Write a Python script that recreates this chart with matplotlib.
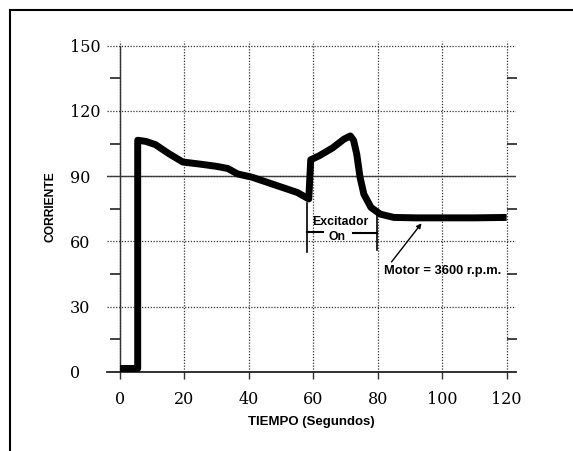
import matplotlib
matplotlib.use("Agg")
import matplotlib.pyplot as plt
from matplotlib.lines import Line2D

# ---- data ----
time_s = [0, 5.5, 5.5, 8, 11, 15, 19.5, 25, 30, 33.5, 36.5, 41, 46, 51, 55, 58.6,
          59.2, 62, 66, 69.5, 71.5, 72.5, 73.5, 74.5, 75.7, 77.9, 80.8, 85, 92, 100, 110, 120]
current = [1.5, 1.5, 106.5, 106, 104.5, 100.5, 96.5, 95.5, 94.5, 93.5, 91, 89.5, 87, 84.5, 82.5, 79.5,
           97.5, 99.5, 103, 107, 108.5, 106.5, 100, 89.5, 81.7, 75.6, 72.5, 71, 70.8, 70.8, 70.8, 71]
x_ticks = [0, 20, 40, 60, 80, 100, 120]
y_ticks = [0, 30, 60, 90, 120, 150]
y_minor = [15, 45, 75, 105, 135]
x_label = "TIEMPO (Segundos)"
y_label = "CORRIENTE"
exc_start, exc_end = 58.1, 79.7

sans = ['Liberation Sans', 'DejaVu Sans']
serif = ['DejaVu Serif']

fig = plt.figure(figsize=(5.73, 4.51), dpi=100)
# frame of the picture (top and left edges only visible)
fig.lines.append(Line2D([10/573, 1.0], [1 - 9.5/451, 1 - 9.5/451], transform=fig.transFigure,
                        color='black', lw=1.5))
fig.lines.append(Line2D([10/573, 10/573], [0, 1 - 9.5/451], transform=fig.transFigure,
                        color='black', lw=1.5))

ax = fig.add_axes([0.1869, 0.1758, 0.7141, 0.7324])
ax.set_xlim(-4, 123)
ax.set_ylim(0, 152)

ax.plot(time_s, current, color='black', lw=5, solid_joinstyle='round',
        solid_capstyle='butt', clip_on=False, zorder=5)

ax.set_xticks(x_ticks)
ax.set_yticks(y_ticks)
ax.set_yticks(y_minor, minor=True)
ax.set_xticklabels([str(v) for v in x_ticks])
ax.set_yticklabels([str(v) for v in y_ticks])

ax.grid(True, which='major', ls=(0, (1.0, 1.3)), color='#333333', lw=0.9)
ax.axhline(90, color='#444444', lw=1.0, zorder=1)

ax.spines['top'].set_visible(False)
ax.spines['left'].set_position(('data', 0))
ax.spines['left'].set_bounds(0, 150)
ax.spines['left'].set_linewidth(1.0)
ax.spines['left'].set_color('#333333')
ax.spines['right'].set_position(('data', 120))
ax.spines['right'].set_visible(False)
ax.spines['bottom'].set_position(('data', 0))
ax.spines['bottom'].set_bounds(-4, 123)
ax.spines['bottom'].set_linewidth(1.3)
ax.spines['bottom'].set_color('#222222')

ax.tick_params(axis='y', which='major', left=True, right=False, length=0, pad=36)
ax.tick_params(axis='y', which='minor', left=True, right=True, direction='out',
               length=7, width=1.2, color='#222222')
ax.tick_params(axis='x', which='major', direction='out', length=5, width=1.0,
               color='#333333', pad=9)

for lab in ax.get_yticklabels():
    lab.set_family(serif)
    lab.set_fontsize(11.5)
    lab.set_horizontalalignment('left')
for lab in ax.get_xticklabels():
    lab.set_family(serif)
    lab.set_fontsize(11.5)

ax.set_xlabel(x_label, family=sans, fontweight='bold', fontsize=9.5, labelpad=6)
ax.set_ylabel(y_label, family=sans, fontweight='bold', fontsize=8.7, labelpad=9.5)

# Excitador annotation
ax.plot([exc_start, exc_start], [55, 77.6], color='black', lw=1.2)
ax.plot([exc_end, exc_end], [56, 73], color='black', lw=1.2)
ax.plot([exc_start, 62.9], [64.3, 64.3], color='black', lw=1.5)
ax.plot([72.3, exc_end], [64.0, 64.0], color='black', lw=1.5)
ax.text(68.4, 68.7, "Excitador", family=sans, fontweight='bold', fontsize=8.8,
        ha='center', va='center', zorder=6)
ax.text(67.3, 61.8, "On", family=sans, fontweight='bold', fontsize=8.8,
        ha='center', va='center', zorder=6)

ax.annotate("Motor = 3600 r.p.m.", xy=(93.6, 68.3), xytext=(100.0, 46.5),
            family=sans, fontweight='bold', fontsize=9.3, ha='center', va='center',
            arrowprops=dict(arrowstyle='-|>', color='black', lw=1.0, mutation_scale=7,
                            shrinkA=0, shrinkB=0, relpos=(0.05, 1.0)))

fig.savefig("out.png", dpi=100)
